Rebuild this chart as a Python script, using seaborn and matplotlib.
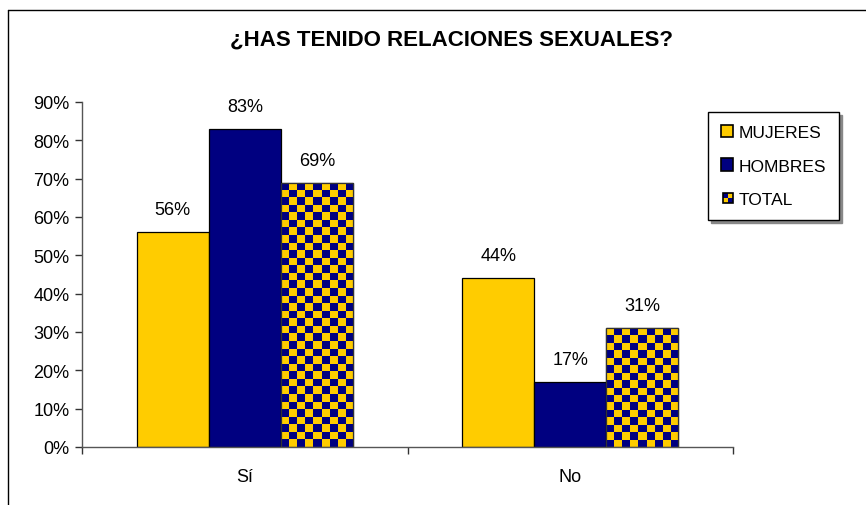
import matplotlib
matplotlib.use('Agg')
import matplotlib.pyplot as plt
import matplotlib.patches as mpatches
from matplotlib.legend_handler import HandlerBase
from matplotlib.lines import Line2D
import numpy as np
import pandas as pd
import seaborn as sns

# data
categories = ['Sí', 'No']
groups = ['MUJERES', 'HOMBRES', 'TOTAL']
mujeres = [0.56, 0.44]
hombres = [0.83, 0.17]
total = [0.69, 0.31]

yellow = '#FFCC00'
navy = '#000080'


class CheckerHandler(HandlerBase):
    # small 2x2 checker square for the TOTAL legend entry
    def create_artists(self, legend, orig_handle, xdescent, ydescent, width, height, fontsize, trans):
        s = height * 0.8
        x0 = xdescent + width - s
        y0 = -ydescent + (height - s) / 2
        arts = []
        for i in range(2):
            for j in range(2):
                c = navy if (i + j) % 2 == 1 else yellow
                arts.append(mpatches.Rectangle((x0 + i * s / 2, y0 + j * s / 2), s / 2, s / 2,
                                               facecolor=c, edgecolor='none', transform=trans))
        arts.append(mpatches.Rectangle((x0, y0), s, s, facecolor='none', edgecolor='black',
                                       linewidth=1.2, transform=trans))
        return arts


def run():
    sns.set_style('white')
    plt.rcParams['font.family'] = ['Liberation Sans', 'DejaVu Sans']
    plt.rcParams['text.color'] = 'black'
    plt.rcParams['xtick.color'] = 'black'
    plt.rcParams['ytick.color'] = 'black'

    frame = pd.DataFrame({
        'categoria': categories * 3,
        'grupo': [g for g in groups for _ in categories],
        'valor': mujeres + hombres + total,
    })

    fig = plt.figure(figsize=(8.66, 5.06), dpi=100)
    ax = fig.add_axes([82 / 866, 1 - 448 / 506, 651 / 866, 345 / 506])

    sns.barplot(data=frame, x='categoria', y='valor', hue='grupo', hue_order=groups,
                palette=[yellow, navy, yellow], saturation=1, width=0.664, gap=0, errorbar=None,
                edgecolor='black', linewidth=0.9, legend=False, ax=ax)

    ax.set_xlim(-0.5, 1.5)
    ax.set_ylim(0, 0.9)

    # checkerboard fill on the TOTAL bars, clipped to the bar shape
    px_per_unit = 345 / 0.9
    cmap = matplotlib.colors.ListedColormap([navy, yellow])
    for bar in ax.containers[2]:
        x, w, h = bar.get_x(), bar.get_width(), bar.get_height()
        nx = 9
        ny = max(1, int(round(h * px_per_unit / 7.5)))
        checker = (np.indices((ny, nx)).sum(axis=0) % 2)
        im = ax.imshow(checker, cmap=cmap, extent=(x, x + w, 0, h), origin='lower',
                       interpolation='nearest', aspect='auto', zorder=bar.get_zorder() + 0.1)
        im.set_clip_path(bar)
        edge = mpatches.Rectangle((x, 0), w, h, facecolor='none', edgecolor='#333333',
                                  linewidth=0.9, zorder=bar.get_zorder() + 0.2)
        ax.add_patch(edge)
    ax.set_aspect('auto')
    ax.set_xlim(-0.5, 1.5)
    ax.set_ylim(0, 0.9)

    for cont in ax.containers:
        ax.bar_label(cont, labels=['%d%%' % round(v * 100) for v in cont.datavalues],
                     padding=10, fontsize=13)

    # axes styling
    for side in ['top', 'right']:
        ax.spines[side].set_visible(False)
    for side in ['left', 'bottom']:
        ax.spines[side].set_color('#555555')
        ax.spines[side].set_linewidth(1.0)
    ax.set_yticks(np.arange(0, 0.91, 0.1))
    ax.set_yticklabels(['%d%%' % v for v in range(0, 91, 10)], fontsize=13)
    ax.tick_params(axis='y', direction='out', length=5, width=1, color='#333333', pad=4, left=True)
    ax.set_xticks([0, 1])
    ax.set_xticklabels(categories, fontsize=13)
    ax.tick_params(axis='x', which='major', length=0, pad=15)
    ax.set_xticks([-0.5, 0.5, 1.5], minor=True)
    ax.tick_params(axis='x', which='minor', direction='out', length=5, width=1, color='#333333', bottom=True)
    ax.set_xlabel('')
    ax.set_ylabel('')

    # legend
    handles = [mpatches.Patch(facecolor=yellow, edgecolor='black', linewidth=1.2),
               mpatches.Patch(facecolor=navy, edgecolor='black', linewidth=1.2),
               mpatches.Patch(facecolor=yellow, edgecolor='black')]
    leg = fig.legend(handles, groups, loc='upper left',
                     bbox_to_anchor=(708 / 866, 1 - 113 / 506),
                     fontsize=12.5, frameon=True, fancybox=False, shadow={'color': '#888888', 'alpha': 1},
                     handlelength=0.7, handleheight=0.7, handletextpad=0.3,
                     labelspacing=1.05, borderpad=0.75, borderaxespad=0,
                     handler_map={handles[2]: CheckerHandler()})
    leg.get_frame().set_edgecolor('black')
    leg.get_frame().set_linewidth(1.0)

    fig.text(451 / 866, 1 - 40 / 506, '¿HAS TENIDO RELACIONES SEXUALES?',
             ha='center', va='center', fontsize=16, fontweight='bold')

    # outer chart border (only top and left visible in the crop)
    fig.add_artist(Line2D([8 / 866, 8 / 866], [0, 1 - 11 / 506], transform=fig.transFigure,
                          color='black', linewidth=1))
    fig.add_artist(Line2D([8 / 866, 1], [1 - 11 / 506, 1 - 11 / 506], transform=fig.transFigure,
                          color='black', linewidth=1))

    fig.savefig('out.png', dpi=100)


if __name__ == '__main__':
    run()
